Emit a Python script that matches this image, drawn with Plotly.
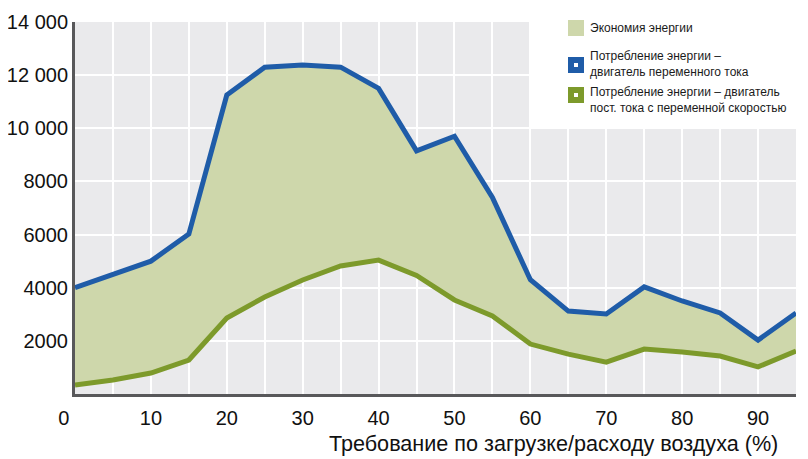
import plotly.graph_objects as go

load_pct = [0, 5, 10, 15, 20, 25, 30, 35, 40, 45, 50, 55, 60, 65, 70, 75, 80, 85, 90, 95]
ac_motor = [4000, 4500, 5000, 6020, 11250, 12300, 12380, 12300, 11500, 9150, 9700, 7400,
            4300, 3120, 3010, 4030, 3500, 3050, 2030, 3050]
dc_vsd = [340, 530, 790, 1280, 2860, 3650, 4290, 4820, 5040, 4460, 3540, 2940,
          1880, 1500, 1200, 1690, 1580, 1430, 1020, 1620]

y_ticks = [2000, 4000, 6000, 8000, 10000, 12000, 14000]
y_labels = ["2000", "4000", "6000", "8000", "10 000", "12 000", "14 000"]
x_ticks = list(range(0, 100, 5))
x_labels = [str(v) if v % 10 == 0 else "" for v in x_ticks]
x_labels[0] = "0&nbsp;&nbsp;&nbsp;&nbsp;"

legend_labels = [
    "Экономия энергии",
    "Потребление энергии –<br>двигатель переменного тока",
    "Потребление энергии – двигатель<br>пост. тока с переменной скоростью",
]
x_title = "Требование по загрузке/расходу воздуха (%)"

BLUE = "#1F5CA8"
GREEN = "#7D9A2B"
FILL = "#CED7AB"
BG = "#EAEAEC"
FONT = "Liberation Sans, Arial, sans-serif"

# page body has an 8px margin; figure is drawn 8px in from the window corner
OFF = 8
FW, FH = 808 - OFF, 459 - OFF

fig = go.Figure()
fig.add_trace(go.Scatter(x=load_pct, y=dc_vsd, mode="lines", line=dict(width=0, color=GREEN),
                         showlegend=False, hoverinfo="skip"))
fig.add_trace(go.Scatter(x=load_pct, y=ac_motor, mode="lines", line=dict(width=0, color=BLUE),
                         fill="tonexty", fillcolor=FILL, showlegend=False, hoverinfo="skip"))
fig.add_trace(go.Scatter(x=load_pct, y=dc_vsd, mode="lines", line=dict(width=5, color=GREEN),
                         showlegend=False))
fig.add_trace(go.Scatter(x=load_pct, y=ac_motor, mode="lines", line=dict(width=5, color=BLUE),
                         showlegend=False))

# plot area in window pixels: left 75, right 796, top 22, bottom 394
L, R, T, B = 75, 796, 22, 394
W, H = R - L, B - T

def px(xp):
    return (xp - L) / W

def py(yp):
    return (B - yp) / H

shapes = [
    dict(type="rect", xref="paper", yref="paper", x0=px(529), x1=px(812), y0=py(128), y1=py(0),
         fillcolor="white", line=dict(width=0), layer="above"),
]
annotations = []
sq_colors = [FILL, BLUE, GREEN]
sq_y = [28, 65, 95]
txt_y = [28, 64, 100]
for i in range(3):
    shapes.append(dict(type="rect", xref="paper", yref="paper", x0=px(568), x1=px(584),
                       y0=py(sq_y[i] + 8), y1=py(sq_y[i] - 8), fillcolor=sq_colors[i],
                       line=dict(width=0), layer="above"))
    if i > 0:
        shapes.append(dict(type="rect", xref="paper", yref="paper", x0=px(574), x1=px(578),
                           y0=py(sq_y[i] + 2), y1=py(sq_y[i] - 2), fillcolor="white",
                           line=dict(width=0), layer="above"))
    annotations.append(dict(xref="paper", yref="paper", x=px(589), y=py(txt_y[i]),
                            xanchor="left", yanchor="middle", align="left", showarrow=False,
                            text=legend_labels[i], borderpad=0,
                            font=dict(family=FONT, size=12, color="#1a1a1a")))

annotations.append(dict(xref="paper", yref="paper", x=px(553), y=py(443), xanchor="center",
                        yanchor="middle", showarrow=False, text=x_title,
                        font=dict(family=FONT, size=21.6, color="#111")))

fig.update_layout(
    width=FW, height=FH,
    margin=dict(l=L - OFF, r=808 - R, t=T - OFF, b=459 - B, autoexpand=False),
    paper_bgcolor="white", plot_bgcolor=BG,
    shapes=shapes, annotations=annotations,
    showlegend=False,
    font=dict(family=FONT, color="#111"),
)
fig.update_xaxes(range=[0, 95], tickvals=x_ticks, ticktext=x_labels, showgrid=True,
                 gridcolor="white", gridwidth=1.5, zeroline=False, showline=True,
                 linecolor="#58585A", linewidth=3, ticks="", tickfont=dict(size=20, family=FONT),
                 ticklabelstandoff=4, automargin=False)
fig.update_yaxes(range=[0, 14000], tickvals=y_ticks, ticktext=y_labels, showgrid=True,
                 gridcolor="white", gridwidth=1.5, zeroline=False, showline=True,
                 linecolor="#58585A", linewidth=3, ticks="", tickfont=dict(size=20, family=FONT),
                 ticklabelstandoff=0, automargin=False)

fig.write_html("out.html")
